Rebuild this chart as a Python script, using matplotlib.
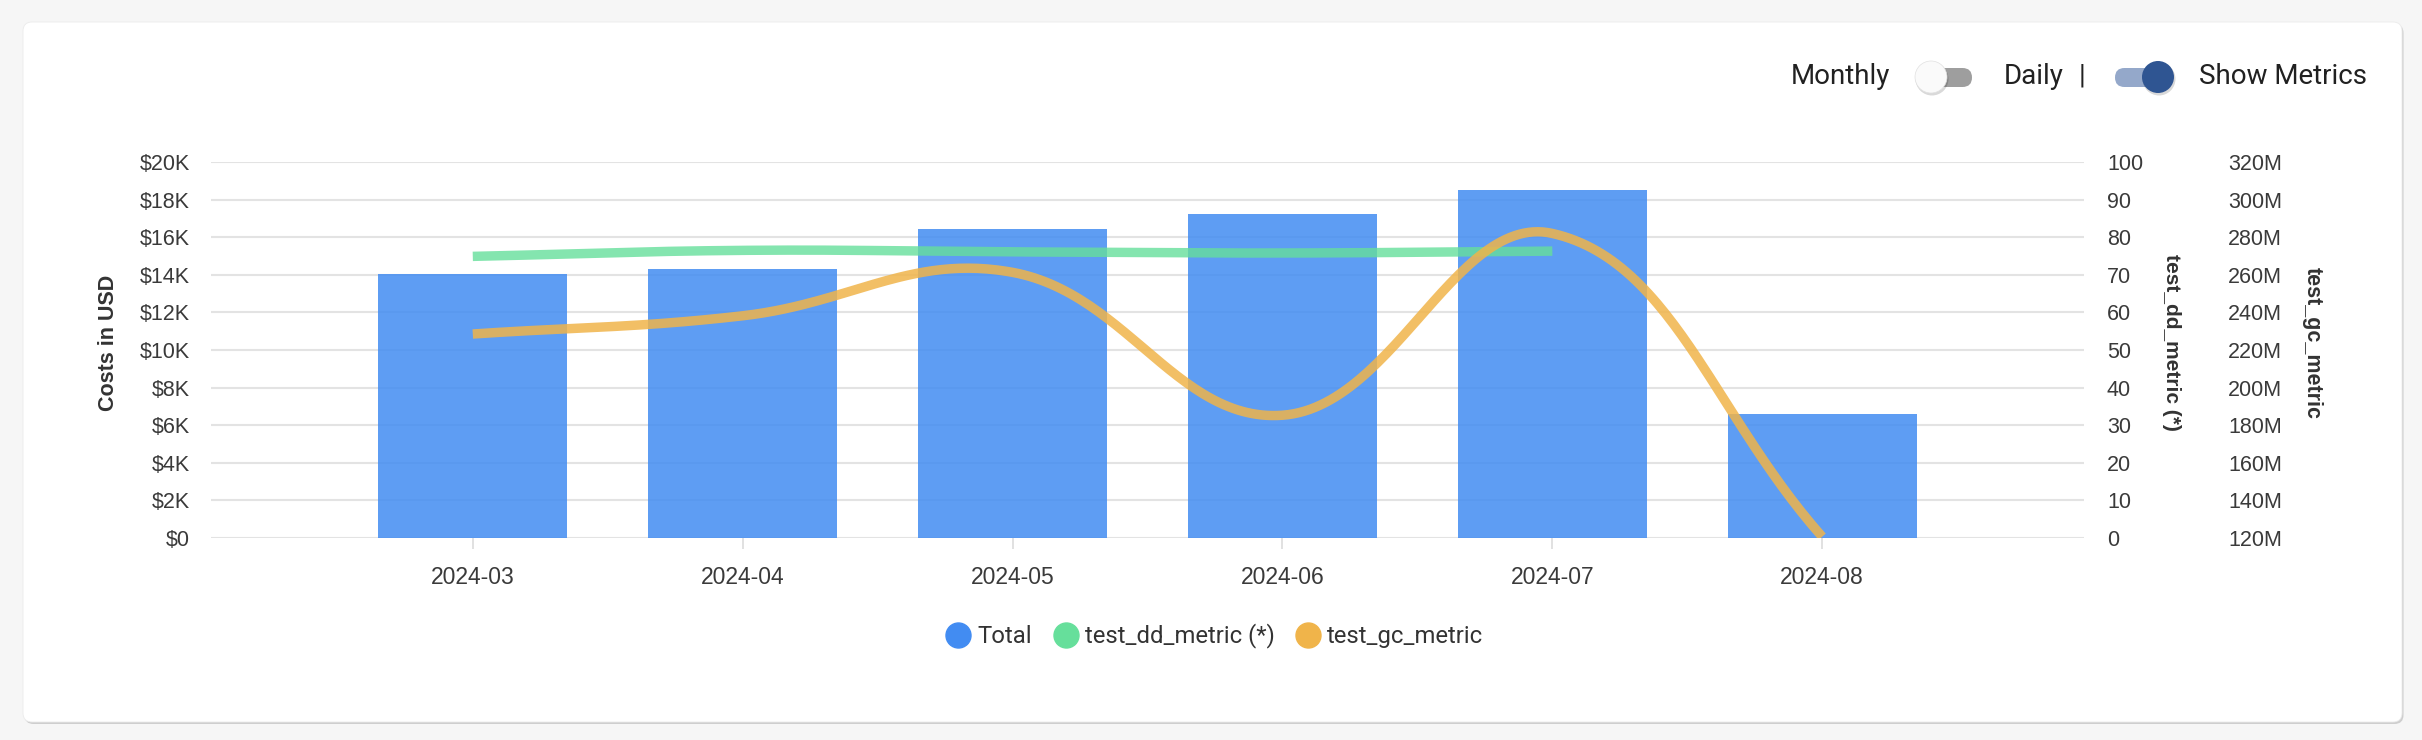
import numpy as np
import matplotlib
matplotlib.use('Agg')
import matplotlib.pyplot as plt
from matplotlib.patches import FancyBboxPatch, Circle
from matplotlib.lines import Line2D

months = ['2024-03', '2024-04', '2024-05', '2024-06', '2024-07', '2024-08']
total_cost = [14030, 14310, 16440, 17220, 18510, 6580]
dd_metric = [74.9, 76.5, 76.1, 75.8, 76.3]           # no value for 2024-08
gc_metric = [228.5, 238.2, 261.3, 185.3, 282.0, 120.7]  # in millions

cost_ticks = list(range(0, 20001, 2000))
dd_ticks = list(range(0, 101, 10))
gc_ticks = list(range(120, 321, 20))

legend_labels = ['Total', 'test_dd_metric (*)', 'test_gc_metric']

W, H = 2422, 740
BLUE = '#428CF2'
GREEN = '#66DF9B'
ORANGE = '#F0B44A'
TXT = '#3A3A3A'
AXFONT = 'Liberation Sans'


def spline(ax, xs, ys, tension=0.4, steps=60):
    # chart.js style curve through the points, built in pixel space
    pts = ax.transData.transform(np.column_stack([xs, ys]))
    n = len(pts)
    cp_prev = pts.copy()
    cp_next = pts.copy()
    for i in range(n):
        prev = pts[max(i - 1, 0)]
        cur = pts[i]
        nxt = pts[min(i + 1, n - 1)]
        d01 = np.hypot(*(cur - prev))
        d12 = np.hypot(*(nxt - cur))
        s = d01 + d12
        s01 = d01 / s if s else 0
        s12 = d12 / s if s else 0
        cp_prev[i] = cur - tension * s01 * (nxt - prev)
        cp_next[i] = cur + tension * s12 * (nxt - prev)
    out = [pts[0]]
    tt = np.linspace(0, 1, steps)[1:, None]
    for i in range(n - 1):
        p0, p1, p2, p3 = pts[i], cp_next[i], cp_prev[i + 1], pts[i + 1]
        seg = (1 - tt)**3 * p0 + 3 * (1 - tt)**2 * tt * p1 + 3 * (1 - tt) * tt**2 * p2 + tt**3 * p3
        out.extend(seg)
    out = ax.transData.inverted().transform(np.array(out))
    return out[:, 0], out[:, 1]


fig = plt.figure(figsize=(W / 100, H / 100), dpi=100)

# page + card
bg = fig.add_axes([0, 0, 1, 1], zorder=-5)
bg.set_xlim(0, W)
bg.set_ylim(H, 0)
bg.axis('off')
bg.add_patch(plt.Rectangle((0, 0), W, H, color='#F6F6F6'))
bg.add_patch(FancyBboxPatch((24.5, 24), 2379, 700, boxstyle='round,pad=0,rounding_size=9',
                            fc='#BDBDBD', ec='none', alpha=0.7))
bg.add_patch(FancyBboxPatch((23, 22), 2379, 700, boxstyle='round,pad=0,rounding_size=9',
                            fc='white', ec='#EBEBEB', lw=0.6))

# main chart
ax = fig.add_axes([211 / W, (H - 538) / H, 1873 / W, 376 / H])
ax.patch.set_visible(False)
ax2 = ax.twinx()
ax3 = ax.twinx()
for a in (ax, ax2, ax3):
    for sp in a.spines.values():
        sp.set_visible(False)

x = np.arange(len(months))
ax.bar(x, total_cost, width=0.7, color=BLUE, alpha=0.85, zorder=2)
ax.set_xlim(-0.97, 5.97)
ax.set_ylim(0, 20000)
ax.set_yticks(cost_ticks, ['$0' if v == 0 else f'${v // 1000}K' for v in cost_ticks])
ax.set_xticks(x, months)
ax.yaxis.grid(True, color='#E3E3E3', lw=1.5, zorder=0)
ax.set_axisbelow(True)
ax.tick_params(axis='y', length=0, pad=15, labelsize=15.5, labelcolor=TXT)
ax.tick_params(axis='x', length=8, width=1.2, color='#DCDCDC', pad=12, labelsize=16.5, labelcolor=TXT)

ax2.set_ylim(0, 100)
ax2.set_yticks(dd_ticks, [str(v) for v in dd_ticks])
ax2.tick_params(axis='y', length=0, pad=16.5, labelsize=15.5, labelcolor=TXT)

ax3.set_ylim(120, 320)
ax3.spines['right'].set_position(('outward', 87.1))
ax3.set_yticks(gc_ticks, [f'{v}M' for v in gc_ticks])
ax3.tick_params(axis='y', length=0, pad=16.5, labelsize=15.5, labelcolor=TXT)

for a in (ax, ax2, ax3):
    for lab in a.get_xticklabels() + a.get_yticklabels():
        lab.set_fontfamily(AXFONT)

gx, gy = spline(ax2, x[:len(dd_metric)], dd_metric)
ax2.plot(gx, gy, color=GREEN, alpha=0.8, lw=6.8, solid_capstyle='butt')
ox, oy = spline(ax3, x, gc_metric)
ax3.plot(ox, oy, color=ORANGE, alpha=0.85, lw=6.8, solid_capstyle='butt')

# axis titles
fig.text(109 / W, 1 - 343 / H, 'Costs in USD', rotation=90, ha='center', va='center',
         fontsize=15.5, fontweight='bold', family=AXFONT, color='#333333')
fig.text(2172 / W, 1 - 342 / H, 'test_dd_metric (*)', rotation=270, ha='center', va='center',
         fontsize=15, fontweight='bold', family=AXFONT, color='#333333')
fig.text(2312 / W, 1 - 343 / H, 'test_gc_metric', rotation=270, ha='center', va='center',
         fontsize=15.5, fontweight='bold', family=AXFONT, color='#333333')

# legend
handles = [Line2D([], [], ls='', marker='o', markersize=18, markerfacecolor=c, markeredgecolor=c)
           for c in (BLUE, GREEN, ORANGE)]
leg = fig.legend(handles, legend_labels, loc='center', bbox_to_anchor=(1215 / W, 1 - 636 / H),
                 ncol=3, frameon=False, handlelength=1.0, handletextpad=0.3, columnspacing=0.9,
                 prop={'family': 'Roboto', 'size': 17.2})
for t in leg.get_texts():
    t.set_color('#333333')

# toggles at top right
ov = fig.add_axes([0, 0, 1, 1], zorder=5)
ov.set_xlim(0, W)
ov.set_ylim(H, 0)
ov.axis('off')
ov.patch.set_alpha(0)
tk = dict(fontsize=20, family='Roboto', va='center', ha='left', color='#212121')
ov.text(1791, 76, 'Monthly', **tk)
ov.text(2004, 76, 'Daily', **tk)
ov.text(2079, 76, '|', **tk)
ov.text(2199, 76, 'Show Metrics', **tk)
ov.add_patch(FancyBboxPatch((1919, 68), 53, 19, boxstyle='round,pad=0,rounding_size=9.5',
                            fc='#9E9E9E', ec='none'))
ov.add_patch(Circle((1932, 79), 16.5, fc='#000000', alpha=0.15, ec='none'))
ov.add_patch(Circle((1931, 77), 16, fc='#FAFAFA', ec='#E0E0E0', lw=0.5))
ov.add_patch(FancyBboxPatch((2115, 68), 58, 19, boxstyle='round,pad=0,rounding_size=9.5',
                            fc='#94A8CA', ec='none'))
ov.add_patch(Circle((2159, 79), 16.5, fc='#000000', alpha=0.15, ec='none'))
ov.add_patch(Circle((2158, 77), 16, fc='#2F5592', ec='none'))

fig.savefig('out.png', dpi=100)
